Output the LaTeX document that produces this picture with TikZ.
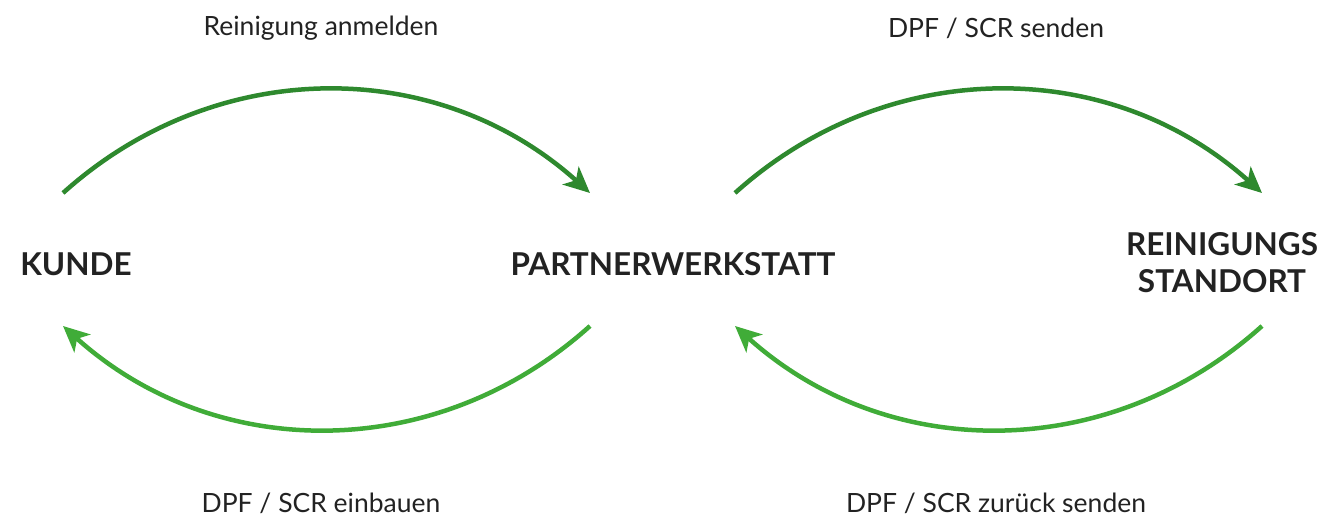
\documentclass[tikz,border=0pt]{standalone}
\usepackage{fontspec}
\setmainfont{Lato}
\usetikzlibrary{arrows.meta}
\definecolor{darkgreen}{RGB}{46,137,46}
\definecolor{lightgreen}{RGB}{64,172,56}
\definecolor{textgray}{RGB}{34,34,34}
\tikzset{
  party/.style={font=\fontsize{31.5}{37}\selectfont\bfseries,text=textgray,align=center},
  flowlabel/.style={font=\fontsize{26.5}{30}\selectfont,text=textgray},
  flow/.style={line width=4.5pt,-{Stealth[length=26pt,width=24pt,inset=7pt]}},
}
\begin{document}
\begin{tikzpicture}[x=1pt,y=-1pt]
\useasboundingbox (0,0) rectangle (1325,517);
% the three parties
\node[party] (kunde) at (76,264) {KUNDE};
\node[party] (werkstatt) at (673,264) {PARTNERWERKSTATT};
\node[party] (standort) at (1222,263) {REINIGUNGS\\STANDORT};
% end points of the arcs
\coordinate (kTop) at (63,193);
\coordinate (kBot) at (63,326);
\coordinate (wTopL) at (590,193);
\coordinate (wBotL) at (590,326);
\coordinate (wTopR) at (735,193);
\coordinate (wBotR) at (735,326);
\coordinate (sTop) at (1262,193);
\coordinate (sBot) at (1262,326);
% arcs
\draw[flow,darkgreen] (kTop) to[bend left=42] (wTopL);
\draw[flow,darkgreen] (wTopR) to[bend left=42] (sTop);
\draw[flow,lightgreen] (wBotL) to[bend left=42] (kBot);
\draw[flow,lightgreen] (sBot) to[bend left=42] (wBotR);
% labels
\node[flowlabel] (anmelden) at (321,28) {Reinigung anmelden};
\node[flowlabel] (senden) at (996,28) {DPF / SCR senden};
\node[flowlabel] (einbauen) at (321,503) {DPF / SCR einbauen};
\node[flowlabel] (zurueck) at (996,503) {DPF / SCR zurück senden};
\end{tikzpicture}
\end{document}
